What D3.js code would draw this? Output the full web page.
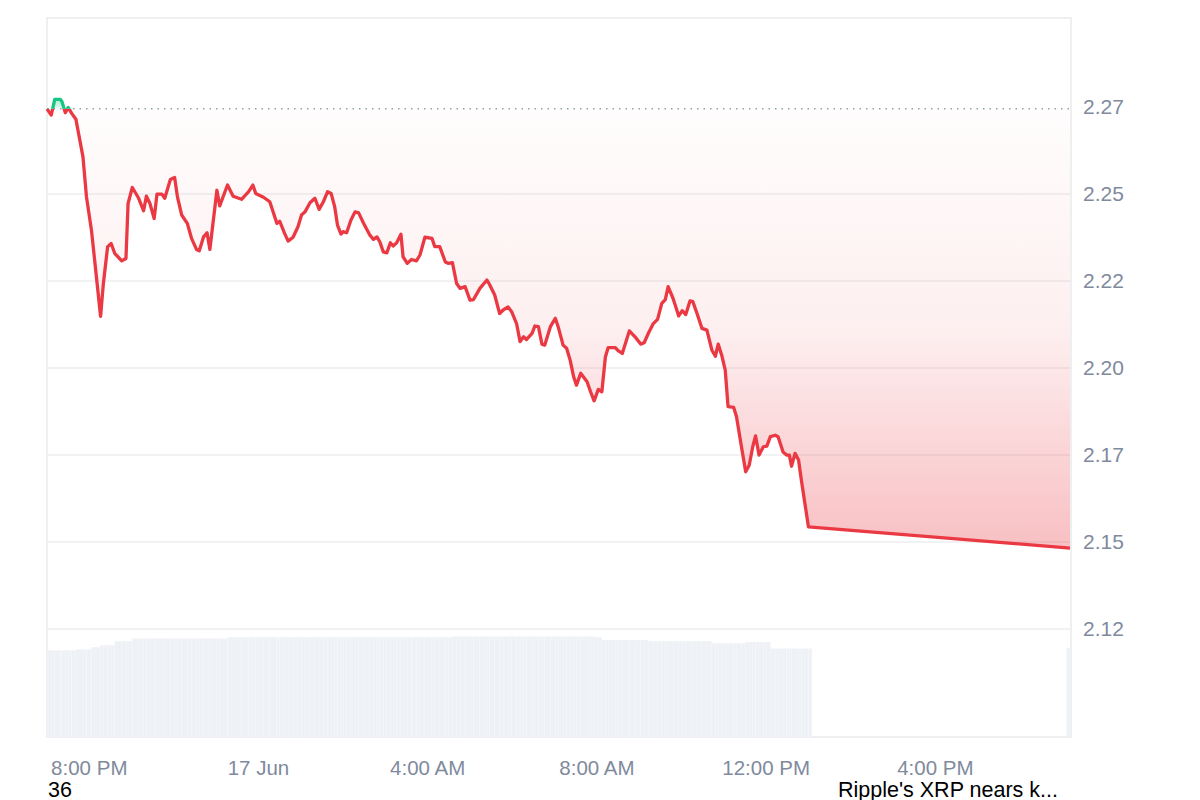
<!DOCTYPE html>
<html>
<head>
<meta charset="utf-8">
<script src="https://cdn.jsdelivr.net/npm/d3@7"></script>
<style>
  body { margin: 0; background: #fff; }
  svg { display: block; font-family: "Liberation Sans", Arial, sans-serif; }
</style>
</head>
<body>
<div id="chart"></div>
<script>
/* global d3 */
'use strict';

// price samples (day hour:minute), 16 -> 17 Jun
var times = [
    '16 19:00', '16 19:06', '16 19:11', '16 19:19', '16 19:21', '16 19:26', '16 19:30', '16 19:35', '16 19:41', '16 19:51',
    '16 19:56', '16 20:03', '16 20:08', '16 20:16', '16 20:20', '16 20:26', '16 20:31', '16 20:36', '16 20:46', '16 20:52',
    '16 20:55', '16 21:01', '16 21:10', '16 21:17', '16 21:21', '16 21:26', '16 21:32', '16 21:36', '16 21:43', '16 21:47',
    '16 21:55', '16 22:01', '16 22:05', '16 22:11', '16 22:19', '16 22:25', '16 22:32', '16 22:36', '16 22:42', '16 22:47',
    '16 22:51', '16 23:01', '16 23:05', '16 23:16', '16 23:24', '16 23:36', '16 23:46', '16 23:52', '16 23:56', '17 00:07',
    '17 00:16', '17 00:26', '17 00:30', '17 00:37', '17 00:42', '17 00:49', '17 00:56', '17 01:01', '17 01:06', '17 01:13',
    '17 01:20', '17 01:26', '17 01:32', '17 01:38', '17 01:43', '17 01:48', '17 01:52', '17 01:57', '17 02:00', '17 02:05',
    '17 02:11', '17 02:17', '17 02:22', '17 02:29', '17 02:38', '17 02:43', '17 02:48', '17 02:52', '17 02:57', '17 03:02',
    '17 03:07', '17 03:11', '17 03:16', '17 03:22', '17 03:25', '17 03:31', '17 03:37', '17 03:44', '17 03:49', '17 03:56',
    '17 04:06', '17 04:10', '17 04:17', '17 04:25', '17 04:29', '17 04:35', '17 04:41', '17 04:46', '17 04:53', '17 05:00',
    '17 05:05', '17 05:14', '17 05:24', '17 05:28', '17 05:35', '17 05:42', '17 05:47', '17 05:54', '17 05:59', '17 06:06',
    '17 06:11', '17 06:16', '17 06:20', '17 06:28', '17 06:32', '17 06:37', '17 06:42', '17 06:46', '17 06:54', '17 07:01',
    '17 07:05', '17 07:12', '17 07:17', '17 07:22', '17 07:27', '17 07:31', '17 07:37', '17 07:46', '17 07:51', '17 07:56',
    '17 08:02', '17 08:07', '17 08:12', '17 08:16', '17 08:26', '17 08:30', '17 08:36', '17 08:46', '17 08:54', '17 09:02',
    '17 09:07', '17 09:13', '17 09:20', '17 09:26', '17 09:32', '17 09:37', '17 09:41', '17 09:48', '17 09:56', '17 10:01',
    '17 10:06', '17 10:12', '17 10:16', '17 10:22', '17 10:29', '17 10:36', '17 10:43', '17 10:48', '17 10:52', '17 10:57',
    '17 11:02', '17 11:06', '17 11:14', '17 11:18', '17 11:25', '17 11:31', '17 11:36', '17 11:41', '17 11:45', '17 11:50',
    '17 11:56', '17 12:01', '17 12:06', '17 12:13', '17 12:17', '17 12:24', '17 12:29', '17 12:33', '17 12:36', '17 12:41',
    '17 12:46', '17 12:50', '17 12:55', '17 13:00', '17 19:11'
];

var prices = [
    2.2745, 2.2727, 2.2772, 2.2772, 2.2767, 2.2734, 2.2749, 2.2732, 2.2715, 2.2607,
    2.2492, 2.2397, 2.2302, 2.2149, 2.2244, 2.2349, 2.2358, 2.2330, 2.2308, 2.2315,
    2.2473, 2.2519, 2.2488, 2.2452, 2.2494, 2.2473, 2.2430, 2.2500, 2.2500, 2.2488,
    2.2542, 2.2548, 2.2492, 2.2440, 2.2416, 2.2373, 2.2341, 2.2337, 2.2377, 2.2389,
    2.2341, 2.2511, 2.2466, 2.2526, 2.2494, 2.2485, 2.2507, 2.2526, 2.2502, 2.2491,
    2.2478, 2.2416, 2.2422, 2.2387, 2.2365, 2.2376, 2.2406, 2.2440, 2.2449, 2.2475,
    2.2488, 2.2456, 2.2478, 2.2507, 2.2502, 2.2464, 2.2411, 2.2385, 2.2392, 2.2389,
    2.2425, 2.2449, 2.2446, 2.2416, 2.2382, 2.2370, 2.2377, 2.2363, 2.2334, 2.2331,
    2.2360, 2.2351, 2.2360, 2.2385, 2.2320, 2.2301, 2.2312, 2.2308, 2.2325, 2.2376,
    2.2373, 2.2349, 2.2349, 2.2305, 2.2301, 2.2303, 2.2243, 2.2229, 2.2234, 2.2195,
    2.2197, 2.2229, 2.2253, 2.2239, 2.2210, 2.2157, 2.2167, 2.2176, 2.2162, 2.2128,
    2.2076, 2.2090, 2.2082, 2.2100, 2.2121, 2.2119, 2.2069, 2.2066, 2.2119, 2.2143,
    2.2119, 2.2066, 2.2057, 2.2023, 2.1975, 2.1951, 2.1985, 2.1961, 2.1932, 2.1906,
    2.1939, 2.1932, 2.2032, 2.2059, 2.2059, 2.2050, 2.2042, 2.2107, 2.2090, 2.2069,
    2.2073, 2.2100, 2.2128, 2.2140, 2.2186, 2.2197, 2.2234, 2.2200, 2.2150, 2.2165,
    2.2154, 2.2193, 2.2191, 2.2157, 2.2114, 2.2109, 2.2052, 2.2034, 2.2069, 2.2037,
    2.1994, 2.1889, 2.1887, 2.1860, 2.1774, 2.1702, 2.1721, 2.1774, 2.1805, 2.1750,
    2.1774, 2.1776, 2.1803, 2.1807, 2.1803, 2.1759, 2.1750, 2.1750, 2.1718, 2.1755,
    2.1736, 2.1678, 2.1611, 2.1544, 2.1483
];

// 24h volume (billions) at each sample
var volumes = [
    3.02, 3.02, 3.02, 3.02, 3.02, 3.02, 3.02, 3.02, 3.05, 3.05,
    3.05, 3.13, 3.13, 3.20, 3.20, 3.20, 3.20, 3.34, 3.34, 3.34,
    3.34, 3.43, 3.43, 3.43, 3.43, 3.43, 3.43, 3.43, 3.43, 3.43,
    3.43, 3.43, 3.43, 3.43, 3.43, 3.43, 3.43, 3.43, 3.43, 3.43,
    3.43, 3.43, 3.43, 3.48, 3.48, 3.48, 3.48, 3.48, 3.48, 3.48,
    3.48, 3.48, 3.48, 3.48, 3.48, 3.48, 3.48, 3.48, 3.48, 3.48,
    3.48, 3.48, 3.48, 3.48, 3.48, 3.48, 3.48, 3.48, 3.48, 3.48,
    3.48, 3.48, 3.48, 3.48, 3.48, 3.48, 3.48, 3.48, 3.48, 3.48,
    3.48, 3.48, 3.48, 3.48, 3.48, 3.48, 3.48, 3.48, 3.48, 3.48,
    3.48, 3.48, 3.48, 3.48, 3.48, 3.50, 3.50, 3.50, 3.50, 3.50,
    3.50, 3.50, 3.50, 3.50, 3.50, 3.50, 3.50, 3.50, 3.50, 3.50,
    3.50, 3.50, 3.50, 3.50, 3.50, 3.50, 3.50, 3.50, 3.50, 3.50,
    3.50, 3.50, 3.50, 3.50, 3.50, 3.50, 3.50, 3.50, 3.50, 3.48,
    3.48, 3.38, 3.38, 3.38, 3.38, 3.38, 3.38, 3.38, 3.38, 3.38,
    3.38, 3.34, 3.34, 3.34, 3.34, 3.34, 3.34, 3.34, 3.34, 3.34,
    3.34, 3.34, 3.34, 3.34, 3.34, 3.34, 3.27, 3.27, 3.27, 3.27,
    3.27, 3.27, 3.27, 3.27, 3.27, 3.31, 3.31, 3.31, 3.31, 3.31,
    3.31, 3.31, 3.08, 3.08, 3.08, 3.08, 3.08, 3.08, 3.08, 3.08,
    3.08, 3.08, 3.08, 3.08, 3.10
];

var openPrice = 2.2745;
var openLabel = '2.27';

var yTickValues = [2.125, 2.15, 2.175, 2.2, 2.225, 2.25];
var yTickLabels = ['2.12', '2.15', '2.17', '2.20', '2.22', '2.25'];

var xTickTimes = ['16 20:00', '17 00:00', '17 04:00', '17 08:00', '17 12:00', '17 16:00'];
var xTickLabels = ['8:00 PM', '17 Jun', '4:00 AM', '8:00 AM', '12:00 PM', '4:00 PM'];

var footerLeft = '36';
var footerRight = 'Ripple\'s XRP nears k...';

var chart = (function () {
    var parseTime = d3.timeParse('%d %H:%M');

    var data = times.map(function (t, i) {
        return { t: parseTime(t), p: prices[i], v: volumes[i] };
    });

    var plotLeft = 47, plotRight = 1070, plotTop = 18, plotBottom = 737;
    var red = '#ea3943', green = '#16c784', labelGray = '#808a9d';

    var svg = d3.select('#chart')
        .append('svg')
            .attr('width', 1200)
            .attr('height', 800);

    var x = d3.scaleTime()
        .domain(d3.extent(data, function (d) { return d.t; }))
        .range([plotLeft, plotRight]);

    var y = d3.scaleLinear()
        .domain([2.094, 2.3006])
        .range([plotBottom, plotTop]);

    var yVol = d3.scaleLinear()
        .domain([0, d3.max(volumes)])
        .range([plotBottom, plotBottom - 100.5]);

    var yOpen = y(openPrice);

    var defs = svg.append('defs');

    defs.append('clipPath').attr('id', 'clip-above')
        .append('rect')
            .attr('x', plotLeft - 5).attr('y', plotTop)
            .attr('width', plotRight - plotLeft + 10).attr('height', yOpen - plotTop);

    defs.append('clipPath').attr('id', 'clip-below')
        .append('rect')
            .attr('x', plotLeft - 5).attr('y', yOpen)
            .attr('width', plotRight - plotLeft + 10).attr('height', plotBottom - yOpen);

    var redGrad = defs.append('linearGradient')
        .attr('id', 'red-grad')
        .attr('gradientUnits', 'userSpaceOnUse')
        .attr('x1', 0).attr('x2', 0)
        .attr('y1', yOpen).attr('y2', y(d3.min(prices)));
    redGrad.append('stop').attr('offset', 0).attr('stop-color', red).attr('stop-opacity', 0.01);
    redGrad.append('stop').attr('offset', 0.5).attr('stop-color', red).attr('stop-opacity', 0.08);
    redGrad.append('stop').attr('offset', 1).attr('stop-color', red).attr('stop-opacity', 0.32);

    var greenGrad = defs.append('linearGradient')
        .attr('id', 'green-grad')
        .attr('gradientUnits', 'userSpaceOnUse')
        .attr('x1', 0).attr('x2', 0)
        .attr('y1', y(d3.max(prices))).attr('y2', yOpen);
    greenGrad.append('stop').attr('offset', 0).attr('stop-color', green).attr('stop-opacity', 0.35);
    greenGrad.append('stop').attr('offset', 1).attr('stop-color', green).attr('stop-opacity', 0.1);

    // frame + grid
    svg.append('rect')
        .attr('x', plotLeft).attr('y', plotTop)
        .attr('width', plotRight - plotLeft + 1).attr('height', plotBottom - plotTop)
        .attr('fill', 'none')
        .attr('stroke', '#e8eaed')
        .attr('stroke-width', 1.5);

    svg.selectAll('.grid')
        .data(yTickValues)
        .enter().append('line')
            .attr('class', 'grid')
            .attr('x1', plotLeft).attr('x2', plotRight + 1)
            .attr('y1', function (d) { return y(d); })
            .attr('y2', function (d) { return y(d); })
            .attr('stroke', '#eceef0')
            .attr('stroke-width', 1.5);

    // volume bars
    var step5 = x(d3.timeMinute.offset(data[0].t, 5)) - x(data[0].t);
    svg.append('g')
        .selectAll('rect')
        .data(data)
        .enter().append('rect')
            .attr('x', function (d, i) {
                return i === data.length - 1 ? x(d.t) - step5 : x(d.t);
            })
            .attr('width', function (d, i) {
                if (i === data.length - 1) { return step5; }
                var gap = x(data[i + 1].t) - x(d.t);
                return gap > step5 * 3 ? step5 : gap;
            })
            .attr('y', function (d) { return yVol(d.v); })
            .attr('height', function (d) { return plotBottom - yVol(d.v); })
            .attr('fill', '#eef1f5')
            .attr('stroke', '#f7f8fa')
            .attr('stroke-width', 0.3);

    // area between price and open
    var area = d3.area()
        .x(function (d) { return x(d.t); })
        .y0(yOpen)
        .y1(function (d) { return y(d.p); });

    svg.append('path')
        .datum(data)
        .attr('d', area)
        .attr('clip-path', 'url(#clip-below)')
        .attr('fill', 'url(#red-grad)');

    svg.append('path')
        .datum(data)
        .attr('d', area)
        .attr('clip-path', 'url(#clip-above)')
        .attr('fill', 'url(#green-grad)');

    // open price reference
    svg.append('line')
        .attr('x1', plotLeft).attr('x2', plotRight)
        .attr('y1', yOpen).attr('y2', yOpen)
        .attr('stroke', '#9aa0ab')
        .attr('stroke-width', 1.5)
        .attr('stroke-dasharray', '1.5,5');

    // price line
    var line = d3.line()
        .x(function (d) { return x(d.t); })
        .y(function (d) { return y(d.p); });

    svg.append('path')
        .datum(data)
        .attr('d', line)
        .attr('clip-path', 'url(#clip-below)')
        .attr('fill', 'none')
        .attr('stroke', red)
        .attr('stroke-width', 3.3)
        .attr('stroke-linejoin', 'round');

    svg.append('path')
        .datum(data)
        .attr('d', line)
        .attr('clip-path', 'url(#clip-above)')
        .attr('fill', 'none')
        .attr('stroke', green)
        .attr('stroke-width', 3.3)
        .attr('stroke-linejoin', 'round');

    // y labels
    svg.selectAll('.ylab')
        .data(yTickValues)
        .enter().append('text')
            .attr('class', 'ylab')
            .attr('x', 1083)
            .attr('y', function (d) { return y(d); })
            .attr('dy', '0.35em')
            .attr('font-size', 21)
            .attr('fill', labelGray)
            .text(function (d, i) { return yTickLabels[i]; });

    svg.append('text')
        .attr('x', 1083)
        .attr('y', yOpen - 2)
        .attr('dy', '0.35em')
        .attr('font-size', 21)
        .attr('fill', labelGray)
        .text(openLabel);

    // x labels
    svg.selectAll('.xlab')
        .data(xTickTimes)
        .enter().append('text')
            .attr('class', 'xlab')
            .attr('x', function (d) { return x(parseTime(d)); })
            .attr('y', 775)
            .attr('text-anchor', 'middle')
            .attr('font-size', 20.5)
            .attr('fill', labelGray)
            .text(function (d, i) { return xTickLabels[i]; });

    // footer
    svg.append('text')
        .attr('x', 48).attr('y', 797)
        .attr('font-size', 21.5)
        .attr('fill', '#000')
        .text(footerLeft);

    svg.append('text')
        .attr('x', 838).attr('y', 797)
        .attr('font-size', 21.5)
        .attr('fill', '#000')
        .text(footerRight);

    return svg;
})();
</script>
</body>
</html>
